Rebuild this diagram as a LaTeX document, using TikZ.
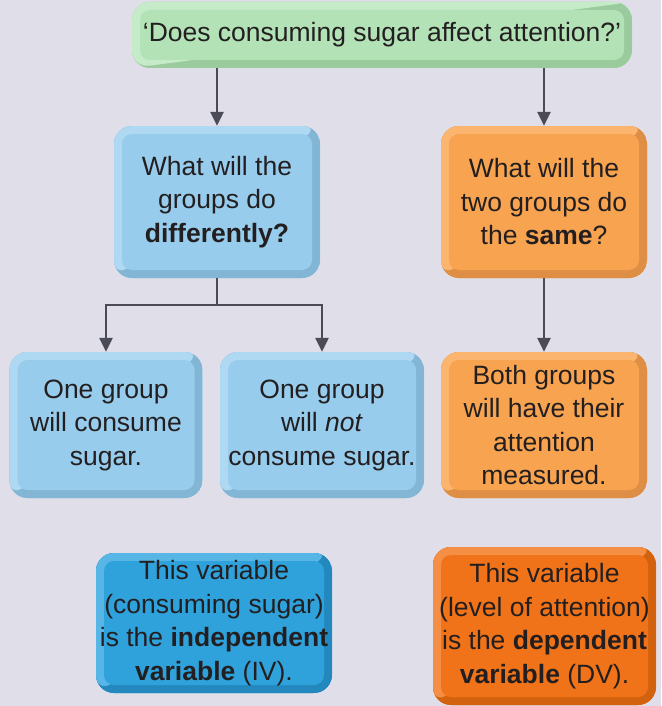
\documentclass[tikz,border=0pt]{standalone}
\usepackage{fontspec}
\setmainfont{Liberation Sans}
\usetikzlibrary{arrows.meta, positioning, calc}

\definecolor{bgcol}{HTML}{E0DFE9}
\definecolor{inkdark}{HTML}{231F20}
\definecolor{linegray}{HTML}{4B4B57}
\definecolor{qgreen}{HTML}{B3E2B6}
\definecolor{qgreenhi}{HTML}{C6EBC8}
\definecolor{qgreenlo}{HTML}{9ACB9D}
\definecolor{lblue}{HTML}{97CCEC}
\definecolor{lbluehi}{HTML}{AFD9F2}
\definecolor{lbluelo}{HTML}{83B6D5}
\definecolor{lorange}{HTML}{F8A350}
\definecolor{lorangehi}{HTML}{FBB56E}
\definecolor{lorangelo}{HTML}{DF8F45}
\definecolor{dblue}{HTML}{2FA1DB}
\definecolor{dbluehi}{HTML}{58B6E6}
\definecolor{dbluelo}{HTML}{2388BE}
\definecolor{dorange}{HTML}{F07319}
\definecolor{dorangehi}{HTML}{F48F45}
\definecolor{dorangelo}{HTML}{D3620F}

\newcommand{\boxfont}{\fontsize{26.5pt}{33.5pt}\selectfont}

\tikzset{
  panel/.style n args={3}{rounded corners=18pt, fill=#1, text=inkdark, align=center,
    inner sep=0pt, font=\boxfont,
    path picture={
      \fill[#3] (path picture bounding box.south west) rectangle (path picture bounding box.north east);
      \fill[#2] (path picture bounding box.south west) -- (path picture bounding box.north west)
        -- (path picture bounding box.north east) -- cycle;
      \fill[#1, rounded corners=10pt] ([shift={(8,8)}]path picture bounding box.north west)
        rectangle ([shift={(-8,-8)}]path picture bounding box.south east);
    }},
  greenbox/.style={panel={qgreen}{qgreenhi}{qgreenlo}},
  bluebox/.style={panel={lblue}{lbluehi}{lbluelo}},
  orangebox/.style={panel={lorange}{lorangehi}{lorangelo}},
  ivbox/.style={panel={dblue}{dbluehi}{dbluelo}},
  dvbox/.style={panel={dorange}{dorangehi}{dorangelo}},
  arr/.style={-{Triangle[width=13pt,length=14pt]}, line width=2.5pt, draw=linegray},
  link/.style={line width=2.5pt, draw=linegray},
}

\begin{document}
\begin{tikzpicture}[x=1pt, y=-1pt]
  % background
  \fill[bgcol] (0,0) rectangle (661,706);
  \useasboundingbox (0,0) rectangle (661,706);

  % question
  \node[greenbox, minimum width=500pt, minimum height=66pt] (question) at (382,35)
    {`Does consuming sugar affect attention?'};

  % what differs / what stays the same
  \node[bluebox, minimum width=206pt, minimum height=152pt] (diff) at (217,202)
    {What will the\\groups do\\\textbf{differently?}};
  \node[orangebox, minimum width=206pt, minimum height=152pt] (same) at (544,202)
    {What will the\\two groups do\\the \textbf{same}?};

  % groups
  \node[bluebox, minimum width=193pt, minimum height=146pt] (sugar) at (106,425)
    {One group\\will consume\\sugar.};
  \node[bluebox, minimum width=204pt, minimum height=146pt] (nosugar) at (322,425)
    {One group\\will \textit{not}\\consume sugar.};
  \node[orangebox, minimum width=206pt, minimum height=146pt] (measure) at (544,425)
    {Both groups\\will have their\\attention\\measured.};

  % variables
  \node[ivbox, minimum width=236pt, minimum height=140pt] (iv) at (214,623)
    {This variable\\(consuming sugar)\\is the \textbf{independent}\\\textbf{variable} (IV).};
  \node[dvbox, minimum width=223pt, minimum height=158pt] (dv) at (544.5,626)
    {This variable\\(level of attention)\\is the \textbf{dependent}\\\textbf{variable} (DV).};

  % connectors
  \draw[arr] (question.south -| diff.north) -- (diff.north);
  \draw[arr] (question.south -| same.north) -- (same.north);
  \coordinate (split) at ($(diff.south)+(0,27)$);
  \draw[link] (diff.south) -- (split);
  \draw[arr] (split) -| (sugar.north);
  \draw[arr] (split) -| (nosugar.north);
  \draw[arr] (same.south) -- (measure.north);
\end{tikzpicture}
\end{document}
